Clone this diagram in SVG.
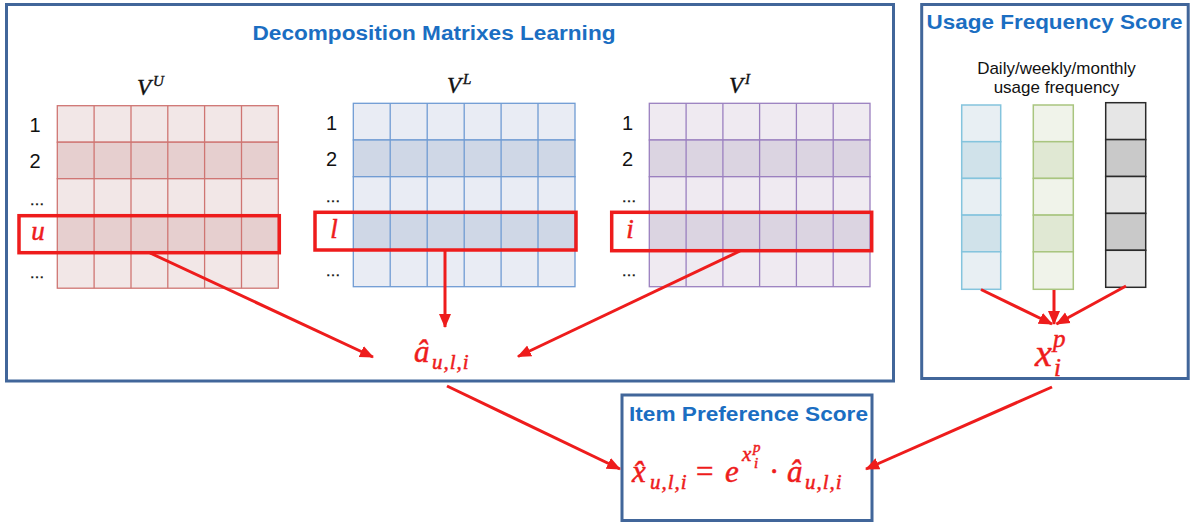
<svg xmlns="http://www.w3.org/2000/svg" width="1190" height="523" viewBox="0 0 1190 523">
<style>
.panel{fill:none;stroke:#41669a;stroke-width:3}
.title{font-family:"Liberation Sans",Arial,sans-serif;font-weight:bold;fill:#1b6ec2}
.num{font-family:"Liberation Sans",Arial,sans-serif;font-size:20px;fill:#111;text-anchor:middle}
.dots{font-family:"Liberation Sans",Arial,sans-serif;font-size:15px;fill:#111;text-anchor:middle;stroke:#111;stroke-width:0.4}
.math{font-family:"Liberation Serif","Times New Roman",serif;font-style:italic;fill:#111;stroke:#111;stroke-width:0.4}
.rm{font-family:"Liberation Serif","Times New Roman",serif;fill:#ee1c1c;stroke:#ee1c1c;stroke-width:0.5}
.red{font-family:"Liberation Serif","Times New Roman",serif;font-style:italic;fill:#ee1c1c;stroke:#ee1c1c;stroke-width:0.5}
.sub{letter-spacing:1px}
.hl{fill:none;stroke:#ee1c1c;stroke-width:3.5}
.mU .l{fill:#f2e7e7}.mU .d{fill:#e6cfcf}.mU rect,.mU line{stroke:#cf7572;stroke-width:1.3}
.mL .l{fill:#e9ecf4}.mL .d{fill:#cfd7e6}.mL rect,.mL line{stroke:#6f9bd3;stroke-width:1.3}
.mI .l{fill:#efeaf1}.mI .d{fill:#dbd4e1}.mI rect,.mI line{stroke:#9a7fbf;stroke-width:1.3}
.bB .l{fill:#e8eff3}.bB .d{fill:#d0e2ea}.bB rect{stroke:#84c4dd;stroke-width:1.5}
.bG .l{fill:#f0f3ea}.bG .d{fill:#e0e8d3}.bG rect{stroke:#a9c57f;stroke-width:1.5}
.bK .l{fill:#e6e6e6}.bK .d{fill:#c9c9c9}.bK rect{stroke:#2a2a2a;stroke-width:1.5}
.arr{stroke:#ee1c1c;stroke-width:3;fill:none;marker-end:url(#ah)}
</style>
<defs>
<marker id="ah" markerUnits="userSpaceOnUse" markerWidth="16" markerHeight="14" refX="13" refY="7" orient="auto">
<path d="M0,1 L14,7 L0,13 z" fill="#ee1c1c"/>
</marker>
</defs>
<rect width="1190" height="523" fill="#fff"/>

<g id="decomposition-panel">
<rect class="panel" x="6.5" y="4.5" width="887" height="376.5"/>
<text class="title" x="434" y="40" font-size="20" text-anchor="middle" textLength="363" lengthAdjust="spacingAndGlyphs">Decomposition Matrixes Learning</text>
</g>

<g id="matrix-VU">
<text class="math" x="137" y="95" font-size="23">V<tspan font-size="15" dy="-9" dx="2">U</tspan></text>
<g class="mU">
<rect class="l" x="57.3" y="105.7" width="221" height="36.5"/>
<rect class="d" x="57.3" y="142.2" width="221" height="36.5"/>
<rect class="l" x="57.3" y="178.7" width="221" height="36.5"/>
<rect class="d" x="57.3" y="215.2" width="221" height="36.5"/>
<rect class="l" x="57.3" y="251.7" width="221" height="36.5"/>
<line x1="94.1" y1="105.7" x2="94.1" y2="288.2"/>
<line x1="131" y1="105.7" x2="131" y2="288.2"/>
<line x1="167.8" y1="105.7" x2="167.8" y2="288.2"/>
<line x1="204.6" y1="105.7" x2="204.6" y2="288.2"/>
<line x1="241.5" y1="105.7" x2="241.5" y2="288.2"/>
</g>
<text class="num" x="35" y="131.5">1</text>
<text class="num" x="35" y="168">2</text>
<text class="dots" x="37" y="205">…</text>
<text class="red" x="38" y="240" font-size="27" text-anchor="middle">u</text>
<text class="dots" x="37" y="278">…</text>
<rect class="hl" x="19" y="215.7" width="260.3" height="37"/>
</g>

<g id="matrix-VL">
<text class="math" x="447" y="93" font-size="23">V<tspan font-size="15" dy="-9" dx="2">L</tspan></text>
<g class="mL">
<rect class="l" x="353.3" y="103.3" width="221.7" height="36.7"/>
<rect class="d" x="353.3" y="140" width="221.7" height="36.7"/>
<rect class="l" x="353.3" y="176.7" width="221.7" height="36.7"/>
<rect class="d" x="353.3" y="213.4" width="221.7" height="36.7"/>
<rect class="l" x="353.3" y="250.1" width="221.7" height="36.6"/>
<line x1="390.2" y1="103.3" x2="390.2" y2="286.7"/>
<line x1="427.2" y1="103.3" x2="427.2" y2="286.7"/>
<line x1="464.2" y1="103.3" x2="464.2" y2="286.7"/>
<line x1="501.1" y1="103.3" x2="501.1" y2="286.7"/>
<line x1="538" y1="103.3" x2="538" y2="286.7"/>
</g>
<text class="num" x="331.5" y="130">1</text>
<text class="num" x="331.5" y="166">2</text>
<text class="dots" x="333" y="202">…</text>
<text class="red" x="334" y="238" font-size="27" text-anchor="middle">l</text>
<text class="dots" x="333" y="276">…</text>
<rect class="hl" x="315" y="212.3" width="261" height="37.7"/>
</g>

<g id="matrix-VI">
<text class="math" x="729" y="93" font-size="23">V<tspan font-size="15" dy="-9" dx="2">I</tspan></text>
<g class="mI">
<rect class="l" x="649.3" y="103.3" width="220.7" height="36.7"/>
<rect class="d" x="649.3" y="140" width="220.7" height="36.7"/>
<rect class="l" x="649.3" y="176.7" width="220.7" height="36.7"/>
<rect class="d" x="649.3" y="213.4" width="220.7" height="36.7"/>
<rect class="l" x="649.3" y="250.1" width="220.7" height="36.6"/>
<line x1="686.1" y1="103.3" x2="686.1" y2="286.7"/>
<line x1="722.9" y1="103.3" x2="722.9" y2="286.7"/>
<line x1="759.6" y1="103.3" x2="759.6" y2="286.7"/>
<line x1="796.4" y1="103.3" x2="796.4" y2="286.7"/>
<line x1="833.2" y1="103.3" x2="833.2" y2="286.7"/>
</g>
<text class="num" x="627.5" y="130">1</text>
<text class="num" x="627.5" y="166">2</text>
<text class="dots" x="629" y="202">…</text>
<text class="red" x="630" y="238" font-size="27" text-anchor="middle">i</text>
<text class="dots" x="629" y="276">…</text>
<rect class="hl" x="611.7" y="212.3" width="260" height="38.4"/>
</g>

<g id="a-hat">
<text class="red" x="414" y="362" font-size="31">â</text>
<text class="red sub" x="432" y="369" font-size="21">u,l,i</text>
</g>

<g id="usage-panel">
<rect class="panel" x="921.7" y="4.5" width="266.5" height="374"/>
<text class="title" x="1054.5" y="29" font-size="21" text-anchor="middle" textLength="256" lengthAdjust="spacingAndGlyphs">Usage Frequency Score</text>
<text x="1056.5" y="73.5" font-family="Liberation Sans,Arial,sans-serif" font-size="17" fill="#111" text-anchor="middle">Daily/weekly/monthly</text>
<text x="1056.5" y="92.5" font-family="Liberation Sans,Arial,sans-serif" font-size="17" fill="#111" text-anchor="middle">usage frequency</text>
<g class="bB">
<rect class="l" x="961.7" y="105" width="39" height="36.7"/>
<rect class="d" x="961.7" y="141.7" width="39" height="36.7"/>
<rect class="l" x="961.7" y="178.4" width="39" height="36.7"/>
<rect class="d" x="961.7" y="215.1" width="39" height="36.7"/>
<rect class="l" x="961.7" y="251.8" width="39" height="37.5"/>
</g>
<g class="bG">
<rect class="l" x="1033.3" y="105" width="40" height="36.7"/>
<rect class="d" x="1033.3" y="141.7" width="40" height="36.7"/>
<rect class="l" x="1033.3" y="178.4" width="40" height="36.7"/>
<rect class="d" x="1033.3" y="215.1" width="40" height="36.7"/>
<rect class="l" x="1033.3" y="251.8" width="40" height="37.5"/>
</g>
<g class="bK">
<rect class="l" x="1105.7" y="102.7" width="40" height="36.9"/>
<rect class="d" x="1105.7" y="139.6" width="40" height="36.9"/>
<rect class="l" x="1105.7" y="176.5" width="40" height="36.9"/>
<rect class="d" x="1105.7" y="213.4" width="40" height="36.9"/>
<rect class="l" x="1105.7" y="250.3" width="40" height="37"/>
</g>
<text class="red" x="1035" y="366" font-size="38">x</text>
<text class="red" x="1053" y="347" font-size="25">p</text>
<text class="red" x="1054" y="376" font-size="25">i</text>
</g>

<g id="item-preference">
<rect class="panel" x="622" y="395" width="250" height="125.5"/>
<text class="title" x="748.5" y="421" font-size="20" text-anchor="middle" textLength="239" lengthAdjust="spacingAndGlyphs">Item Preference Score</text>
<text class="red" x="632" y="482" font-size="31">x̂</text>
<text class="red sub" x="650" y="489" font-size="21">u,l,i</text>
<text class="rm" x="696" y="482" font-size="31">=</text>
<text class="red" x="725" y="482" font-size="31">e</text>
<text class="red" x="742" y="461" font-size="21">x</text>
<text class="red" x="753" y="452" font-size="15">p</text>
<text class="red" x="754" y="468" font-size="15">i</text>
<text class="rm" x="769" y="482" font-size="31">·</text>
<text class="red" x="787" y="482" font-size="31">â</text>
<text class="red sub" x="805" y="489" font-size="21">u,l,i</text>
</g>

<g id="connectors">
<line class="arr" x1="150" y1="253" x2="373" y2="357"/>
<line class="arr" x1="445" y1="250" x2="445" y2="327"/>
<line class="arr" x1="740" y1="251" x2="518" y2="356.5"/>
<line class="arr" x1="981" y1="289.5" x2="1052" y2="324"/>
<line class="arr" x1="1054" y1="290" x2="1054" y2="324"/>
<line class="arr" x1="1126" y1="286" x2="1056.5" y2="324"/>
<line class="arr" x1="447" y1="386" x2="620" y2="469"/>
<line class="arr" x1="1052" y1="387" x2="866" y2="469"/>
</g>
</svg>
